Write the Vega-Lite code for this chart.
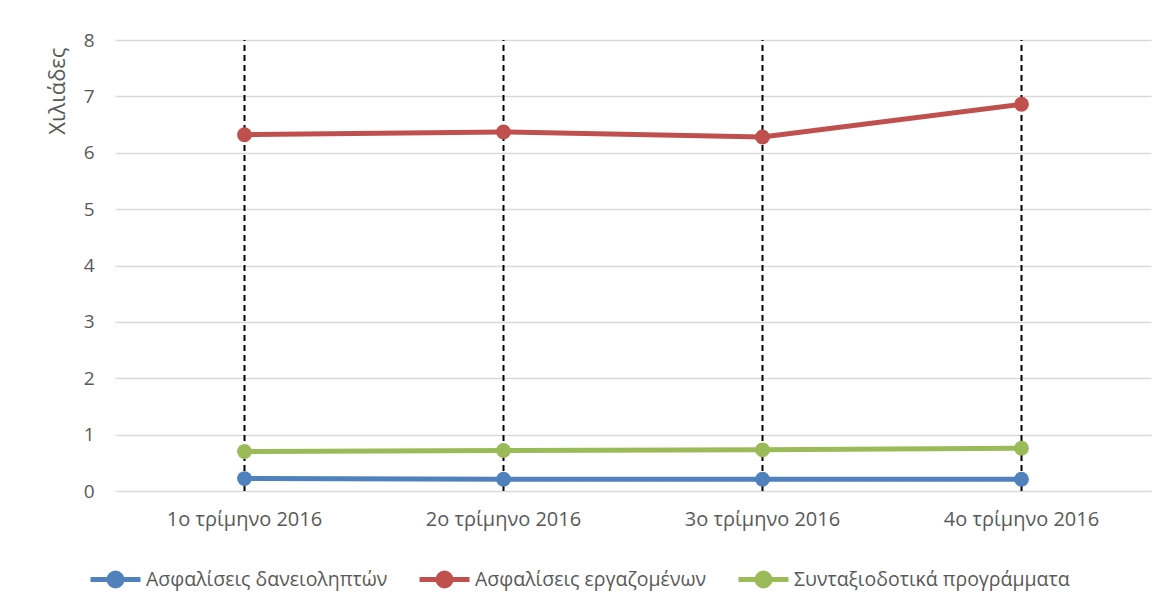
{
  "$schema": "https://vega.github.io/schema/vega-lite/v6.json",
  "autosize": {"type": "none"},
  "padding": {"left": 115, "top": 40, "right": 25, "bottom": 121},
  "width": 1036,
  "height": 451,
  "background": "white",
  "config": {
    "view": {"stroke": null},
    "font": "Open Sans",
    "axis": {"labelFont": "Open Sans", "titleFont": "Open Sans", "labelColor": "#595959", "titleColor": "#595959"},
    "legend": {"labelFont": "Open Sans"}
  },
  "datasets": {
    "series": [
      {"quarter": "1ο τρίμηνο 2016", "series": "Ασφαλίσεις δανειοληπτών", "value": 0.22},
      {"quarter": "2ο τρίμηνο 2016", "series": "Ασφαλίσεις δανειοληπτών", "value": 0.21},
      {"quarter": "3ο τρίμηνο 2016", "series": "Ασφαλίσεις δανειοληπτών", "value": 0.21},
      {"quarter": "4ο τρίμηνο 2016", "series": "Ασφαλίσεις δανειοληπτών", "value": 0.21},
      {"quarter": "1ο τρίμηνο 2016", "series": "Ασφαλίσεις εργαζομένων", "value": 6.32},
      {"quarter": "2ο τρίμηνο 2016", "series": "Ασφαλίσεις εργαζομένων", "value": 6.37},
      {"quarter": "3ο τρίμηνο 2016", "series": "Ασφαλίσεις εργαζομένων", "value": 6.28},
      {"quarter": "4ο τρίμηνο 2016", "series": "Ασφαλίσεις εργαζομένων", "value": 6.86},
      {"quarter": "1ο τρίμηνο 2016", "series": "Συνταξιοδοτικά προγράμματα", "value": 0.70},
      {"quarter": "2ο τρίμηνο 2016", "series": "Συνταξιοδοτικά προγράμματα", "value": 0.72},
      {"quarter": "3ο τρίμηνο 2016", "series": "Συνταξιοδοτικά προγράμματα", "value": 0.73},
      {"quarter": "4ο τρίμηνο 2016", "series": "Συνταξιοδοτικά προγράμματα", "value": 0.76}
    ],
    "quarters": [
      {"quarter": "1ο τρίμηνο 2016"},
      {"quarter": "2ο τρίμηνο 2016"},
      {"quarter": "3ο τρίμηνο 2016"},
      {"quarter": "4ο τρίμηνο 2016"}
    ]
  },
  "encoding": {
    "x": {
      "field": "quarter",
      "type": "nominal",
      "sort": null,
      "scale": {"type": "band", "paddingInner": 0, "paddingOuter": 0},
      "axis": {
        "title": null,
        "labelAngle": 0,
        "labelFontSize": 20,
        "labelPadding": 18,
        "labelLimit": 300,
        "ticks": false,
        "domain": false,
        "grid": false
      }
    }
  },
  "layer": [
    {
      "data": {"name": "quarters"},
      "mark": {"type": "rule", "color": "black", "strokeWidth": 2, "strokeDash": [6, 4]},
      "encoding": {
        "y": {"datum": 0, "type": "quantitative"},
        "y2": {"datum": 8}
      }
    },
    {
      "data": {"name": "series"},
      "mark": {
        "type": "line",
        "strokeWidth": 5,
        "point": {"filled": true, "size": 220, "opacity": 1}
      },
      "encoding": {
        "y": {
          "field": "value",
          "type": "quantitative",
          "scale": {"domain": [0, 8], "nice": false},
          "axis": {
            "title": "Χιλιάδες",
            "titleFontSize": 22,
            "titleFontWeight": "normal",
            "titleAnchor": "end",
            "titleAlign": "right",
            "titleY": 7,
            "titlePadding": 14,
            "values": [0, 1, 2, 3, 4, 5, 6, 7, 8],
            "format": "d",
            "labelFontSize": 19,
            "labelPadding": 21,
            "ticks": false,
            "domain": false,
            "grid": true,
            "gridColor": "#D9D9D9",
            "gridWidth": 1.5
          }
        },
        "color": {
          "field": "series",
          "type": "nominal",
          "scale": {
            "domain": ["Ασφαλίσεις δανειοληπτών", "Ασφαλίσεις εργαζομένων", "Συνταξιοδοτικά προγράμματα"],
            "range": ["#4F81BD", "#C0504D", "#9BBB59"]
          },
          "legend": {
            "title": null,
            "orient": "none",
            "direction": "horizontal",
            "legendX": -27,
            "legendY": 512,
            "padding": 0,
            "labelFontSize": 19.5,
            "labelLimit": 500,
            "labelColor": "#595959",
            "labelOffset": 3,
            "columnPadding": 21,
            "symbolType": "M-1,0H1M-0.26,0A0.26,0.26,0,1,1,0.26,0A0.26,0.26,0,1,1,-0.26,0Z",
            "symbolSize": 2500,
            "symbolStrokeWidth": 5,
            "encode": {
              "symbols": {
                "update": {
                  "fill": {"scale": "color", "field": "value"},
                  "fillOpacity": {"value": 1},
                  "opacity": {"value": 1}
                }
              }
            }
          }
        }
      }
    }
  ]
}
